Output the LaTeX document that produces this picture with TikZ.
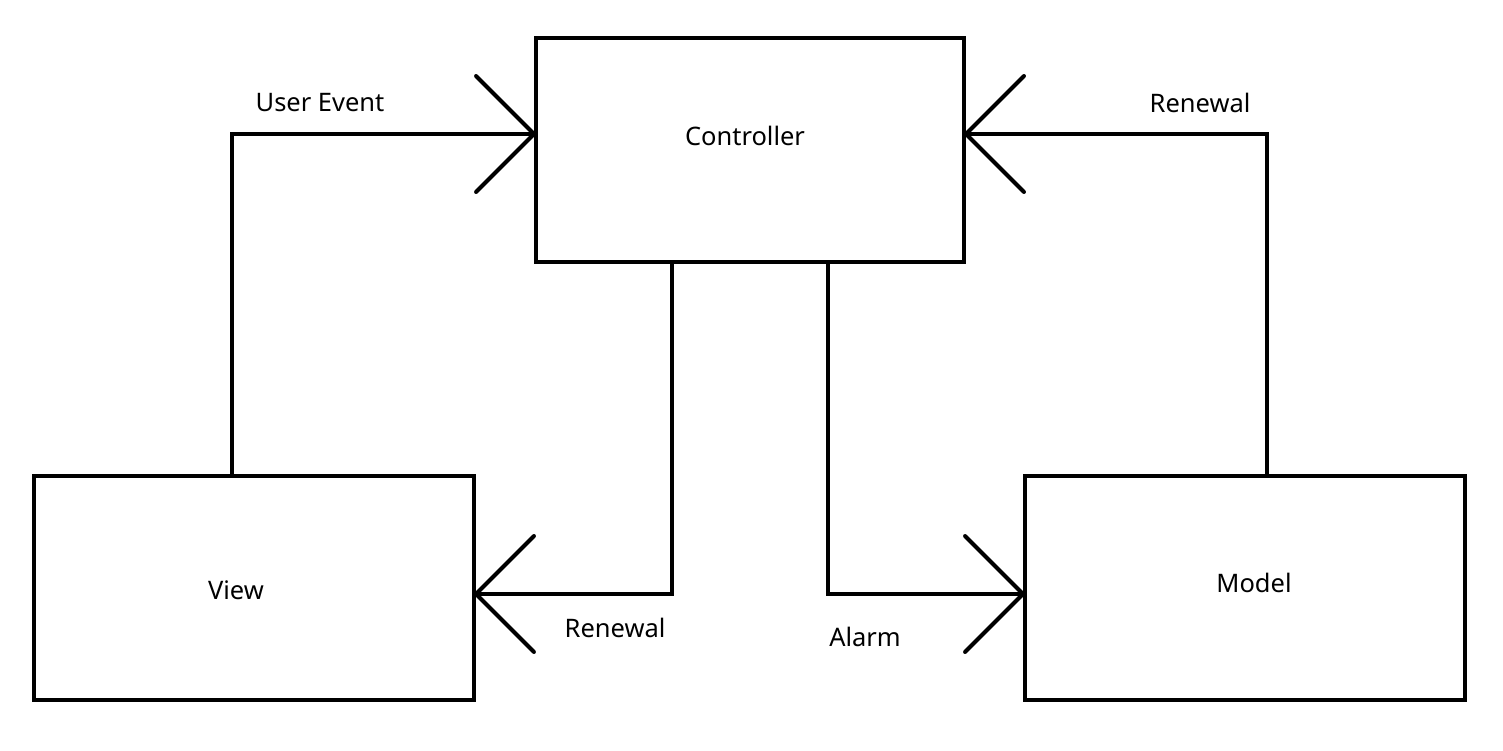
\documentclass[tikz,border=0pt]{standalone}
\usepackage{fontspec}
\setmainfont{Noto Sans}
\usetikzlibrary{arrows.meta}
\begin{document}
\begin{tikzpicture}[x=0.02cm,y=-0.02cm,
  box/.style={draw,line width=0.08cm,inner sep=0pt,outer sep=0pt,minimum height=4.48cm},
  lbl/.style={font=\fontsize{14.5}{17}\selectfont,inner sep=0pt},
  conn/.style={line width=0.08cm,-{Straight Barb[length=1.16cm,width=2.32cm,round]}}]
\useasboundingbox (0,0) rectangle (1503,750);
\node[box,minimum width=8.56cm] (ctrl) at (750,150) {};
\node[box,minimum width=8.8cm] (view) at (254,588) {};
\node[box,minimum width=8.8cm] (model) at (1245,588) {};
\node[lbl] (tctrl) at (745,136) {Controller};
\node[lbl] (tview) at (236,590) {View};
\node[lbl] (tmodel) at (1254,583) {Model};
\draw[conn] ([xshift=-0.44cm]view.north) |- ([yshift=0.32cm]ctrl.west);
\draw[conn] ([xshift=0.44cm]model.north) |- ([yshift=0.32cm]ctrl.east);
\draw[conn] ([xshift=-1.56cm]ctrl.south) |- ([yshift=-0.12cm]view.east);
\draw[conn] ([xshift=1.56cm]ctrl.south) |- ([yshift=-0.12cm]model.west);
\node[lbl] (lue) at (320,103) {User Event};
\node[lbl] (lrt) at (1200,103) {Renewal};
\node[lbl] (lrb) at (615,628) {Renewal};
\node[lbl] (lal) at (865,637) {Alarm};
\end{tikzpicture}
\end{document}
